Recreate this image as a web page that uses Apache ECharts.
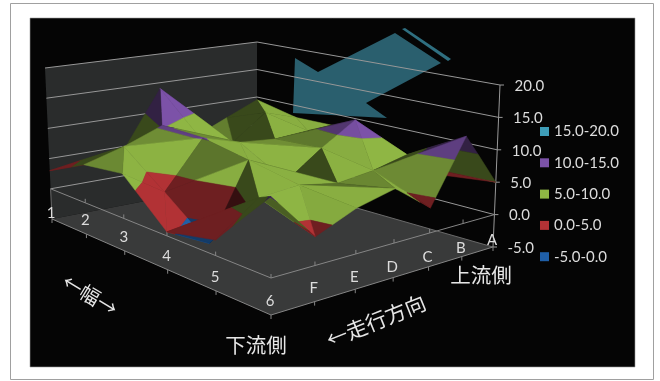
<!DOCTYPE html>
<html><head><meta charset="utf-8">
<style>html,body{margin:0;padding:0;background:#fff}#c{width:660px;height:381px}</style>
<script src="https://cdn.jsdelivr.net/npm/echarts@6/dist/echarts.min.js"></script>
</head><body><div id="c"></div>
<script>
// ---- data ----
var colLabels = ['1','2','3','4','5','6'];
var rowLabels = ['A','B','C','D','E','F'];
var valueTicks = [20, 15, 10, 5, 0, -5];
var bandNames = ['15.0-20.0','10.0-15.0','5.0-10.0','0.0-5.0','-5.0-0.0'];
var bandLows  = [15, 10, 5, 0, -5];
// surface heights, one list per row (A..F plus the closing front row), columns 1..6
var rowA   = [ 9.5, 7.9, 8.0,  5.0, 4.0,  5.0];
var rowB   = [ 7.1, 9.7, 8.3, 11.9, 8.3, 13.2];
var rowC   = [ 4.6, 5.5, 7.9,  8.4, 7.0,  3.7];
var rowD   = [14.0, 7.6, 8.4,  4.3, 6.3,  7.9];
var rowE   = [ 4.9,10.3,10.2,  8.8, 7.3,  6.5];
var rowF   = [ 3.0, 7.9, 2.8, -2.6, 6.8,  4.0];
var rowEnd = [ 3.0, 6.1, 6.9,  0.6, 2.2, 11.0];
var heights = [rowA,rowB,rowC,rowD,rowE,rowF,rowEnd];
// how each cell of the mesh is folded: m = (c,r)-(c+1,r+1), a = (c+1,r)-(c,r+1)
var folds = ['mmmmm','mmama','amamm','mamaa','maamm','ammam'];

// ---- view ----
var bandColors = ['#3E9DB8','#7C52A8','#8FB644','#B23235','#1F5FA8'];
var nCols = colLabels.length - 1, nRows = rowLabels.length, zMin = -5, zMax = 20;
function homography(p0,p1,p2,p3){ // unit square (0,0),(1,0),(1,1),(0,1)
  var dx1=p1[0]-p2[0],dx2=p3[0]-p2[0],sx=p0[0]-p1[0]+p2[0]-p3[0];
  var dy1=p1[1]-p2[1],dy2=p3[1]-p2[1],sy=p0[1]-p1[1]+p2[1]-p3[1];
  var den=dx1*dy2-dx2*dy1, g=(sx*dy2-dx2*sy)/den, h=(dx1*sy-sx*dy1)/den;
  var a=p1[0]-p0[0]+g*p1[0], b=p3[0]-p0[0]+h*p3[0], d=p1[1]-p0[1]+g*p1[1], e=p3[1]-p0[1]+h*p3[1];
  return function(u,v){var w=g*u+h*v+1;return [(a*u+b*v+p0[0])/w,(d*u+e*v+p0[1])/w];};
}
var floorH = homography([257,179.5],[493,247],[271,315],[52,219]);
var roofH  = homography([257,42],[500,85],[271,130],[45,68]);
function project(c,r,z){
  var u=c/nCols,v=r/nRows,t=(z-zMin)/(zMax-zMin),a=floorH(u,v),b=roofH(u,v);
  return [a[0]+(b[0]-a[0])*t,a[1]+(b[1]-a[1])*t];
}
// ---- mesh ----
var tris=[];
folds.forEach(function(line,r){
  for(var c=0;c<nCols;c++){
    var A=[c,r,heights[r][c]],B=[c+1,r,heights[r][c+1]],C=[c+1,r+1,heights[r+1][c+1]],D=[c,r+1,heights[r+1][c]];
    var pair=line[c]==='m'?[[A,B,C],[A,C,D]]:[[A,B,D],[B,C,D]];
    pair.sort(function(p,q){return (p[0][0]+p[0][1]+p[1][0]+p[1][1]+p[2][0]+p[2][1])-(q[0][0]+q[0][1]+q[1][0]+q[1][1]+q[2][0]+q[2][1]);});
    tris.push(pair[0],pair[1]);
  }
});
function clipBand(tri,lo,hi){
  function cut(poly,keep,level){
    var out=[];
    for(var i=0;i<poly.length;i++){
      var p=poly[i],q=poly[(i+1)%poly.length];
      if(keep(p[2]))out.push(p);
      if(keep(p[2])!==keep(q[2])){var t=(level-p[2])/(q[2]-p[2]);out.push([p[0]+(q[0]-p[0])*t,p[1]+(q[1]-p[1])*t,level]);}
    }
    return out;
  }
  var a=cut(tri,function(z){return z>=lo;},lo);
  return a.length?cut(a,function(z){return z<=hi;},hi):a;
}
var shadeStops=[[-3.5,0.4],[-2.6,0.55],[-2,0.74],[-0.9,0.78],[-0.4,0.95],[3,1]];
function facing(t){
  var e1=[t[1][0]-t[0][0],t[1][1]-t[0][1],t[1][2]-t[0][2]],e2=[t[2][0]-t[0][0],t[2][1]-t[0][1],t[2][2]-t[0][2]];
  var nz=e1[0]*e2[1]-e1[1]*e2[0];
  var nc=-(e1[2]*e2[1]-e1[1]*e2[2])/nz, nr=-(e1[0]*e2[2]-e1[2]*e2[0])/nz;
  return nc-(nr>0?0.5:0.8)*Math.abs(nr);
}
function shade(v,band){
  if(band===3||band===4){ return v>1?1:(v<-13?0.3:0.62); }
  if(v<=shadeStops[0][0])return shadeStops[0][1];
  for(var i=1;i<shadeStops.length;i++){
    if(v<=shadeStops[i][0]){var a=shadeStops[i-1],b=shadeStops[i];return a[1]+(b[1]-a[1])*(v-a[0])/(b[0]-a[0]);}
  }
  return 1;
}
function tone(hex,k){
  var n=parseInt(hex.slice(1),16);
  return 'rgb('+Math.round((n>>16&255)*k)+','+Math.round((n>>8&255)*k)+','+Math.round((n&255)*k)+')';
}
function px(api,p){return api.coord(p);}
function bandSeries(i){
  var lo=bandLows[i],hi=lo+5;
  return {type:'custom',name:bandNames[i],coordinateSystem:'cartesian2d',z:3,silent:true,clip:false,
    itemStyle:{color:bandColors[i]},
    data:tris.map(function(t,k){return [k,0];}),
    renderItem:function(params,api){
      var k=api.value(0),poly=clipBand(tris[k],lo,hi);
      if(poly.length<3)return null;
      var pts=poly.map(function(p){return px(api,project(p[0],p[1],p[2]));});
      var col=tone(bandColors[i],shade(facing(tris[k]),i));
      return {type:'polygon',z2:k+1,shape:{points:pts},style:{fill:col,stroke:col,lineWidth:0.5}};
    }};
}
// ---- frame: walls, floor, gridlines, ticks ----
function line(api,a,b,color,w){
  return {type:'line',shape:{x1:a[0],y1:a[1],x2:b[0],y2:b[1]},style:{stroke:color,lineWidth:w}};
}
var frameSeries={type:'custom',name:'frame',coordinateSystem:'cartesian2d',z:2,silent:true,clip:false,
  data:[[0,0]],
  renderItem:function(params,api){
    function P(c,r,z){return px(api,project(c,r,z));}
    var kids=[];
    kids.push({type:'polygon',shape:{points:[P(0,nRows,zMax),P(0,0,zMax),P(0,0,zMin),P(0,nRows,zMin)]},style:{fill:'#2a2c2c'}});
    kids.push({type:'polygon',shape:{points:[P(0,nRows,zMin),P(0,0,zMin),P(nCols,0,zMin),P(nCols,nRows,zMin)]},style:{fill:'#393a3a'}});
    var gc='#979797',ec='#858585';
    valueTicks.forEach(function(z){
      if(z===zMin)return;
      kids.push(line(api,P(0,nRows,z),P(0,0,z),gc,1));
      kids.push(line(api,P(0,0,z),P(nCols,0,z),gc,1));
    });
    kids.push(line(api,P(0,nRows,0),P(nCols,nRows,0),ec,1));
    kids.push(line(api,P(nCols,nRows,0),P(nCols,0,0),ec,1));
    kids.push(line(api,P(0,nRows,zMin),P(nCols,nRows,zMin),ec,1));
    kids.push(line(api,P(nCols,nRows,zMin),P(nCols,0,zMin),ec,1));
    kids.push(line(api,P(nCols,0,zMin),P(0,0,zMin),'#6a6a6a',1));
    kids.push(line(api,P(0,nRows,0),P(0,nRows,zMin),'#6a6a6a',1));
    kids.push(line(api,P(nCols,0,zMax),P(nCols,0,zMin),'#999',1));
    valueTicks.forEach(function(z){
      var p=P(nCols,0,z);kids.push(line(api,p,[p[0]+4,p[1]],'#999',1));
    });
    colLabels.forEach(function(l,c){
      var p=P(c,nRows,zMin);kids.push(line(api,p,[p[0],p[1]+4],ec,1));
      var q=P(c,nRows,0);if(c>0)kids.push(line(api,q,[q[0],q[1]-4],ec,1));
    });
    rowLabels.forEach(function(l,r){
      var p=P(nCols,r,zMin);kids.push(line(api,p,[p[0],p[1]+4],ec,1));
      var q=P(nCols,r,0);kids.push(line(api,q,[q[0],q[1]-4],ec,1));
    });
    return {type:'group',children:kids};
  }};
var font='Lato,"Noto Sans",sans-serif';
function textEl(s,x,y,size,align){
  return {type:'text',style:{text:s,x:x,y:y,fill:'#dcdcdc',font:size+'px '+font,textAlign:align||'center',textVerticalAlign:'middle'}};
}
var labelSeries={type:'custom',name:'labels',coordinateSystem:'cartesian2d',z:4,silent:true,clip:false,
  data:[[0,0]],
  renderItem:function(params,api){
    var kids=[];
    valueTicks.forEach(function(z){
      var p=px(api,project(nCols,0,z));
      kids.push(textEl(z.toFixed(1),p[0]+14.5,p[1]+1,15,'left'));
    });
    colLabels.forEach(function(l,c){
      var p=px(api,project(c,nRows,zMin));
      kids.push(textEl(l,p[0]-1,p[1]-(c===0?6:14),15));
    });
    rowLabels.forEach(function(l,r){
      var p=px(api,project(nCols,r,zMin));
      kids.push(textEl(l,p[0]-1,p[1]-7-1.2*r,15));
    });
    return {type:'group',children:kids};
  }};
var cjk='"Noto Sans CJK JP",sans-serif';
function title(s,x,y,size,deg){
  return {type:'text',z:6,x:x,y:y,rotation:(deg||0)*Math.PI/180,silent:true,
    style:{text:s,fill:'#e6e6e6',font:size+'px '+cjk,textAlign:'center',textVerticalAlign:'middle'}};
}
var chart=echarts.init(document.getElementById('c'),null,{renderer:'canvas'});
chart.setOption({
  animation:false,backgroundColor:'#fff',
  grid:{left:0,right:0,top:0,bottom:0,containLabel:false},
  xAxis:{type:'value',min:0,max:660,show:false},
  yAxis:{type:'value',min:0,max:381,inverse:true,show:false},
  legend:{orient:'vertical',left:540,top:124,itemWidth:9,itemHeight:9,itemGap:16.3,icon:'rect',selectedMode:false,
    data:bandNames,textStyle:{color:'#dcdcdc',fontSize:15,fontFamily:font},padding:0},
  graphic:[
    {type:'rect',z:0,silent:true,shape:{x:10.5,y:3.5,width:643,height:376},style:{fill:'#fff',stroke:'#a0a0a0',lineWidth:1}},
    {type:'rect',z:0,silent:true,shape:{x:30,y:18,width:605,height:349},style:{fill:'#050505',stroke:'#9a9a9a',lineWidth:0.6}},
    {type:'polygon',z:1,silent:true,shape:{points:[[295,58],[318,72],[395,33],[441,63],[366,103],[387,118],[293,113]]},style:{fill:'#2a5f6e'}},
    {type:'polygon',z:1,silent:true,shape:{points:[[402,29],[405,28],[451,59],[448,61]]},style:{fill:'#2f6f80'}},
    title('下流側',256,345,20.5),
    title('上流側',481,275,20.5),
    title('←幅→',90,295,20,-31),
    title('←走行方向',376,321,21,22)
  ],
  series:[frameSeries].concat(bandNames.map(function(n,i){return bandSeries(i);}),[labelSeries])
});
</script></body></html>
